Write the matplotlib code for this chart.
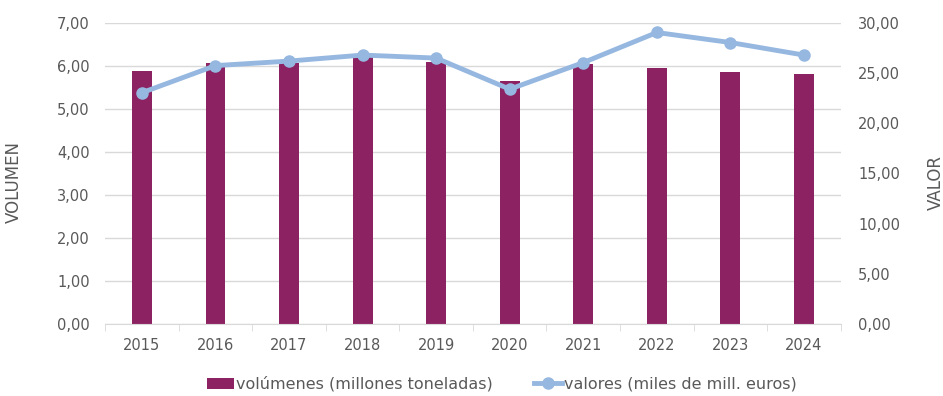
import numpy as np
import matplotlib
matplotlib.use("Agg")
import matplotlib.pyplot as plt
from matplotlib.ticker import FuncFormatter, FixedLocator

years = ["2015", "2016", "2017", "2018", "2019", "2020", "2021", "2022", "2023", "2024"]
volumenes = [5.89, 6.06, 6.08, 6.22, 6.10, 5.66, 6.05, 5.95, 5.87, 5.81]
valores = [23.05, 25.75, 26.2, 26.8, 26.5, 23.4, 26.05, 29.05, 28.05, 26.8]

BAR_C = "#8C2262"
LINE_C = "#96B8E0"
TXT_C = "#595959"
GRID_C = "#D9D9D9"

plt.rcParams["font.family"] = ["DejaVu Sans"]
plt.rcParams["font.size"] = 10.5

fmt = FuncFormatter(lambda v, p: f"{v:.2f}".replace(".", ","))

fig = plt.figure(figsize=(9.43, 3.96), dpi=100)
ax = fig.add_axes([0.1115, 0.182, 0.780, 0.760])
x = np.arange(len(years))

ax.bar(x, volumenes, width=0.27, color=BAR_C, zorder=2,
       label="volúmenes (millones toneladas)")
ax.set_xlim(-0.5, len(years) - 0.5)
ax.set_ylim(0, 7)
ax.set_yticks(np.arange(0, 7.01, 1))
ax.yaxis.set_major_formatter(fmt)
ax.grid(axis="y", color=GRID_C, lw=1.0, zorder=0)
ax.set_axisbelow(True)
ax.set_xticks(x)
ax.set_xticklabels(years)
ax.xaxis.set_minor_locator(FixedLocator(np.arange(-0.5, len(years), 1)))
ax.tick_params(axis="x", which="major", length=0, pad=10, colors=TXT_C)
ax.tick_params(axis="x", which="minor", length=5, color=GRID_C)
ax.tick_params(axis="y", length=0, pad=11, colors=TXT_C)
for s in ["top", "left", "right"]:
    ax.spines[s].set_visible(False)
ax.spines["bottom"].set_color(GRID_C)
ax.set_ylabel("VOLUMEN", color=TXT_C, fontsize=12)
ax.yaxis.set_label_coords(-0.112, 0.472)

ax2 = ax.twinx()
ax2.plot(x, valores, "-o", color=LINE_C, lw=3.5, ms=8, zorder=3,
         label="valores (miles de mill. euros)")
ax2.set_ylim(0, 30)
ax2.set_yticks(np.arange(0, 30.01, 5))
ax2.yaxis.set_major_formatter(fmt)
ax2.tick_params(axis="y", length=0, pad=12.5, colors=TXT_C)
for s in ["top", "left", "right", "bottom"]:
    ax2.spines[s].set_visible(False)
ax2.set_ylabel("VALOR", color=TXT_C, fontsize=12)
ax2.yaxis.set_label_coords(1.117, 0.47)

h1, l1 = ax.get_legend_handles_labels()
h2, l2 = ax2.get_legend_handles_labels()
leg = fig.legend(h1 + h2, l1 + l2, loc="center", bbox_to_anchor=(0.532, 0.03),
                 ncol=2, frameon=False, handlelength=1.7, handletextpad=0.15,
                 columnspacing=2.6, fontsize=11.5)
for t in leg.get_texts():
    t.set_color(TXT_C)

fig.savefig("out.png", dpi=100)
